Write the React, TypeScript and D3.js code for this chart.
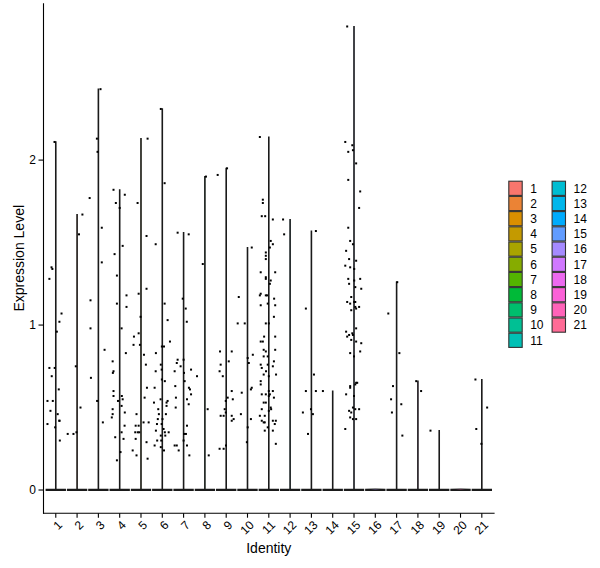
import React from 'react';
import * as d3 from 'd3';

const identities = ['1','2','3','4','5','6','7','8','9','10','11','12','13','14','15','16','17','18','19','20','21'];
const yTicks = [0, 1, 2];

// non-zero expression values per identity (zeros are hidden in the violin base)
const cellValues: number[][] = [
  [2.11,1.35,1.34,1.28,1.07,1.02,0.96,0.74,0.74,0.69,0.61,0.54,0.54,0.48,0.46,0.42,0.42,0.40,0.38,0.30],
  [1.67,1.55,0.75,0.50,0.35,0.34,0.34],
  [2.43,2.13,2.05,1.77,1.59,1.38,1.15,0.98,0.85,0.68,0.54,0.41],
  [1.82,1.79,1.74,1.71,1.48,1.43,1.30,1.18,1.13,1.11,0.98,0.83,0.78,0.72,0.71,0.60,0.57,0.57,0.55,0.54,0.51,0.49,0.47,0.46,0.44,0.39,0.35,0.32,0.31,0.23,0.18],
  [2.13,1.74,1.54,1.22,1.19,1.05,0.95,0.93,0.88,0.88,0.82,0.76,0.62,0.56,0.46,0.41,0.41,0.39,0.39,0.35,0.35,0.35,0.31,0.29,0.24,0.21,0.19],
  [2.31,1.86,1.49,1.13,1.03,0.90,0.87,0.87,0.83,0.76,0.73,0.72,0.67,0.66,0.62,0.55,0.54,0.53,0.53,0.51,0.49,0.46,0.46,0.43,0.43,0.40,0.40,0.37,0.36,0.35,0.35,0.33,0.33,0.30,0.30,0.27,0.26,0.24],
  [1.56,1.55,1.16,1.10,1.02,0.79,0.79,0.77,0.75,0.73,0.72,0.71,0.66,0.63,0.62,0.61,0.58,0.56,0.55,0.52,0.50,0.39,0.34,0.34,0.30,0.27,0.27,0.27,0.24,0.21],
  [1.90,1.37,0.69,0.49,0.21],
  [1.95,1.91,0.84,0.84,0.78,0.76,0.72,0.69,0.60,0.56,0.55,0.54,0.49,0.47,0.45,0.45,0.45,0.43,0.42,0.27,0.25,0.25],
  [1.47,1.17,1.01,1.01,0.82,0.80,0.77,0.62,0.61,0.59,0.46,0.43,0.38,0.29],
  [2.14,1.76,1.74,1.66,1.66,1.64,1.51,1.49,1.47,1.44,1.42,1.40,1.32,1.32,1.29,1.28,1.27,1.25,1.19,1.18,1.18,1.18,1.16,1.12,1.13,1.12,1.05,1.01,1.01,0.93,0.93,0.90,0.90,0.85,0.85,0.84,0.81,0.81,0.78,0.76,0.74,0.76,0.75,0.72,0.70,0.69,0.70,0.66,0.64,0.58,0.58,0.60,0.60,0.58,0.57,0.56,0.53,0.53,0.50,0.49,0.48,0.49,0.45,0.45,0.42,0.42,0.42,0.41,0.41,0.40,0.38,0.36,0.36,0.28],
  [1.64,1.55],
  [1.57,1.10,0.70,0.60,0.60,0.49,0.47,0.46,0.34],
  [0.60],
  [2.81,2.11,2.09,2.06,2.05,1.98,1.88,1.81,1.71,1.59,1.51,1.49,1.45,1.40,1.39,1.36,1.35,1.34,1.28,1.28,1.27,1.25,1.23,1.22,1.17,1.14,1.14,1.14,1.13,1.11,1.11,1.09,1.10,0.98,0.96,0.93,0.94,0.95,0.94,0.91,0.90,0.89,0.84,0.83,0.81,0.65,0.65,0.64,0.63,0.62,0.58,0.57,0.50,0.49,0.49,0.48,0.47,0.44,0.43,0.43,0.37],
  [],
  [1.26,1.07,0.83,0.63,0.55,0.52,0.47,0.33],
  [0.66,0.60],
  [0.36],
  [],
  [0.67,0.50,0.37,0.28],
];

// horizontal jitter of each point, in units of the category step
const cellJitter: number[][] = [
  [-0.06,-0.20,-0.16,-0.30,0.27,0.17,0.05,-0.30,-0.05,-0.19,0.14,-0.39,-0.14,-0.25,0.09,0.17,0.17,-0.39,-0.03,0.19],
  [0.25,0.09,-0.06,0.16,-0.03,-0.44,-0.17],
  [0.10,-0.07,-0.04,-0.41,0.16,0.16,-0.37,-0.37,0.29,-0.35,-0.06,0.21],
  [-0.29,0.24,-0.18,0.00,0.14,-0.24,-0.13,0.32,-0.13,0.32,0.09,0.29,-0.33,-0.29,-0.32,-0.29,-0.29,0.10,0.14,-0.08,0.09,-0.33,0.24,-0.33,-0.37,0.23,0.09,-0.21,0.18,0.04,-0.13],
  [0.31,-0.16,0.26,0.26,-0.11,-0.02,-0.11,-0.33,-0.35,-0.05,0.14,0.23,0.28,0.17,-0.21,0.12,0.36,-0.25,-0.11,-0.27,-0.15,-0.08,-0.25,0.26,-0.39,-0.21,0.31],
  [-0.07,0.11,-0.31,0.11,0.25,0.36,-0.02,0.08,-0.30,-0.07,-0.03,-0.31,-0.02,0.12,-0.36,-0.08,0.25,-0.39,0.20,0.20,-0.19,-0.16,0.17,-0.21,0.01,-0.25,-0.03,0.06,-0.30,0.12,0.30,0.14,-0.07,-0.05,-0.24,-0.36,-0.07,0.08],
  [-0.28,0.24,-0.04,0.10,0.15,0.00,-0.28,-0.32,-0.14,0.35,-0.42,0.02,0.05,-0.39,0.25,0.30,0.35,-0.36,0.16,0.24,-0.37,0.16,0.02,0.11,0.00,-0.42,-0.32,0.16,-0.23,0.27],
  [0.05,-0.10,-0.37,0.13,0.18],
  [0.04,-0.40,-0.29,0.26,0.12,-0.26,-0.31,-0.16,0.26,0.07,0.31,-0.02,-0.07,-0.02,-0.26,-0.12,0.26,0.35,0.26,-0.01,-0.12,-0.31],
  [0.20,-0.41,-0.46,-0.13,0.25,0.01,0.06,0.20,0.16,-0.27,-0.31,0.16,0.01,-0.03],
  [-0.42,-0.28,-0.28,-0.33,-0.17,0.19,0.09,0.19,0.05,-0.14,-0.14,-0.14,-0.38,0.30,-0.14,-0.14,0.09,0.05,-0.38,-0.42,-0.14,-0.08,0.25,-0.38,-0.05,0.30,0.24,-0.14,0.00,-0.22,0.30,-0.38,-0.28,0.30,-0.24,-0.14,-0.24,-0.05,0.24,-0.38,-0.33,-0.05,0.19,-0.13,-0.24,0.00,0.34,-0.38,-0.38,-0.33,-0.14,0.00,0.19,0.05,0.00,0.24,-0.24,-0.14,0.09,0.11,0.00,-0.33,-0.42,-0.19,-0.33,0.19,0.33,-0.24,-0.19,0.28,-0.05,0.19,-0.19,0.33],
  [-0.33,-0.28],
  [0.21,-0.26,0.12,-0.26,0.21,-0.02,-0.40,0.07,-0.16],
  [-0.46],
  [-0.32,-0.41,-0.08,-0.05,-0.27,0.10,-0.27,0.29,0.24,-0.27,-0.18,-0.05,-0.37,-0.23,0.10,-0.41,-0.18,0.01,-0.27,0.29,0.01,-0.23,0.06,0.34,-0.13,-0.32,0.01,0.06,-0.18,0.06,0.24,-0.13,0.10,0.10,-0.37,-0.32,-0.23,-0.08,-0.05,-0.13,0.10,0.34,0.29,-0.18,0.00,0.15,0.10,0.06,-0.18,-0.18,-0.37,0.00,-0.05,0.06,0.24,-0.23,-0.13,-0.18,-0.05,0.10,-0.41],
  [],
  [0.03,-0.39,0.13,-0.17,-0.26,0.22,-0.22,0.27],
  [-0.08,0.15],
  [-0.41],
  [],
  [-0.30,0.25,-0.26,-0.02],
];

// ggplot-style hcl (polar Luv) to hex
function hclHex(h: number, c: number, l: number): string {
  const hr = (h * Math.PI) / 180;
  const U = c * Math.cos(hr), V = c * Math.sin(hr);
  const Xn = 95.047, Yn = 100, Zn = 108.883;
  const den = Xn + 15 * Yn + 3 * Zn;
  const un = (4 * Xn) / den, vn = (9 * Yn) / den;
  const Y = l > 8 ? Yn * Math.pow((l + 16) / 116, 3) : (Yn * l) / 903.3;
  const u = U / (13 * l) + un, v = V / (13 * l) + vn;
  const X = (9 * Y * u) / (4 * v);
  const Z = -X / 3 - 5 * Y + (3 * Y) / v;
  const x = X / 100, y = Y / 100, z = Z / 100;
  const lin = [
    3.240479 * x - 1.53715 * y - 0.498535 * z,
    -0.969256 * x + 1.875992 * y + 0.041556 * z,
    0.055648 * x - 0.204043 * y + 1.057311 * z,
  ];
  const g = lin.map((t) => {
    const s = t <= 0.0031308 ? 12.92 * t : 1.055 * Math.pow(t, 1 / 2.4) - 0.055;
    return Math.round(Math.max(0, Math.min(1, s)) * 255);
  });
  return '#' + g.map((n) => n.toString(16).padStart(2, '0')).join('');
}

const W = 600, H = 568;
const panelLeft = 43, panelRight = 494.6, panelTop = 3.3, panelBottom = 513.2;
const FONT = '"Liberation Sans", Arial, Helvetica, sans-serif';

export default function App() {
  const colors = identities.map((_, i) => hclHex(15 + (360 * i) / identities.length, 100, 65));
  const allMax = d3.max(cellValues.flat()) as number;
  const x = d3.scalePoint<string>().domain(identities).range([panelLeft, panelRight]).padding(0.6);
  const step = x.step();
  const y = d3.scaleLinear().domain([-0.05 * allMax, allMax * 1.05]).range([panelBottom, panelTop]);
  const y0 = y(0);
  const halfW = (step * 0.9) / 2;

  const violins = identities.map((id, i) => {
    const cx = x(id) as number;
    const vmax = cellValues[i].length ? (d3.max(cellValues[i]) as number) : 0;
    const yTop = y(vmax);
    const p = d3.path();
    p.moveTo(cx - halfW, y0 + 0.4);
    p.lineTo(cx + halfW, y0 + 0.4);
    p.lineTo(cx + halfW, y0 - 0.6);
    p.lineTo(cx + 0.2, y0 - 1);
    if (vmax > 0) {
      p.lineTo(cx + 0.2, yTop);
      p.lineTo(cx - 0.2, yTop);
    }
    p.lineTo(cx - 0.2, y0 - 1);
    p.lineTo(cx - halfW, y0 - 0.6);
    p.closePath();
    return { id, d: p.toString(), color: colors[i] };
  });

  const points: { px: number; py: number }[] = [];
  identities.forEach((id, i) => {
    const cx = x(id) as number;
    cellValues[i].forEach((v, k) => {
      points.push({ px: cx + cellJitter[i][k] * step, py: y(v) });
    });
  });

  const keyW = 14.4, keyH = 15.2;
  const legendTop = 180.7;
  const colX = [508.3, 551.6];
  const perCol = Math.ceil(identities.length / 2);

  return (
    <svg width={W} height={H} style={{ position: 'absolute', left: 0, top: 0, background: '#fff' }} fontFamily={FONT}>
      <rect x={0} y={0} width={W} height={H} fill="#fff" />
      {violins.map((v) => (
        <path key={v.id} d={v.d} fill={v.color} stroke="#1a1a1a" strokeWidth={1.2} strokeLinejoin="miter" />
      ))}
      {points.map((p, i) => (
        <rect key={i} x={p.px - 1} y={p.py - 1} width={2} height={2} fill="#000" />
      ))}
      {/* axes */}
      <line x1={panelLeft + 0.5} x2={panelLeft + 0.5} y1={panelTop} y2={panelBottom + 0.5} stroke="#000" strokeWidth={1.1} />
      <line x1={panelLeft} x2={panelRight} y1={panelBottom} y2={panelBottom} stroke="#000" strokeWidth={1.1} />
      {yTicks.map((t) => (
        <g key={t}>
          <line x1={panelLeft - 4.5} x2={panelLeft} y1={y(t)} y2={y(t)} stroke="#000" strokeWidth={1.1} />
          <text x={panelLeft - 7} y={y(t)} dy="0.36em" textAnchor="end" fontSize={12} fill="#000">{t}</text>
        </g>
      ))}
      {identities.map((id) => {
        const cx = x(id) as number;
        return (
          <g key={id}>
            <line x1={cx} x2={cx} y1={panelBottom} y2={panelBottom + 4.5} stroke="#000" strokeWidth={1.1} />
            <text transform={`translate(${cx + 1},${panelBottom + 6.5}) rotate(-45)`} dy="0.72em" textAnchor="end" fontSize={12} fill="#000">{id}</text>
          </g>
        );
      })}
      <text x={(panelLeft + panelRight) / 2} y={552.5} textAnchor="middle" fontSize={14} fill="#000">Identity</text>
      <text transform={`translate(24,${(panelTop + panelBottom) / 2}) rotate(-90)`} textAnchor="middle" fontSize={14} fill="#000">Expression Level</text>
      {/* legend */}
      {identities.map((id, i) => {
        const col = Math.floor(i / perCol);
        const row = i % perCol;
        const kx = colX[col];
        const ky = legendTop + row * keyH;
        return (
          <g key={id}>
            <rect x={kx + 0.5} y={ky + 0.5} width={keyW - 1} height={keyH - 1} fill={colors[i]} stroke="#333333" strokeWidth={1.1} />
            <text x={kx + keyW + 7.5} y={ky + keyH / 2} dy="0.36em" fontSize={12} fill="#000">{id}</text>
          </g>
        );
      })}
    </svg>
  );
}
